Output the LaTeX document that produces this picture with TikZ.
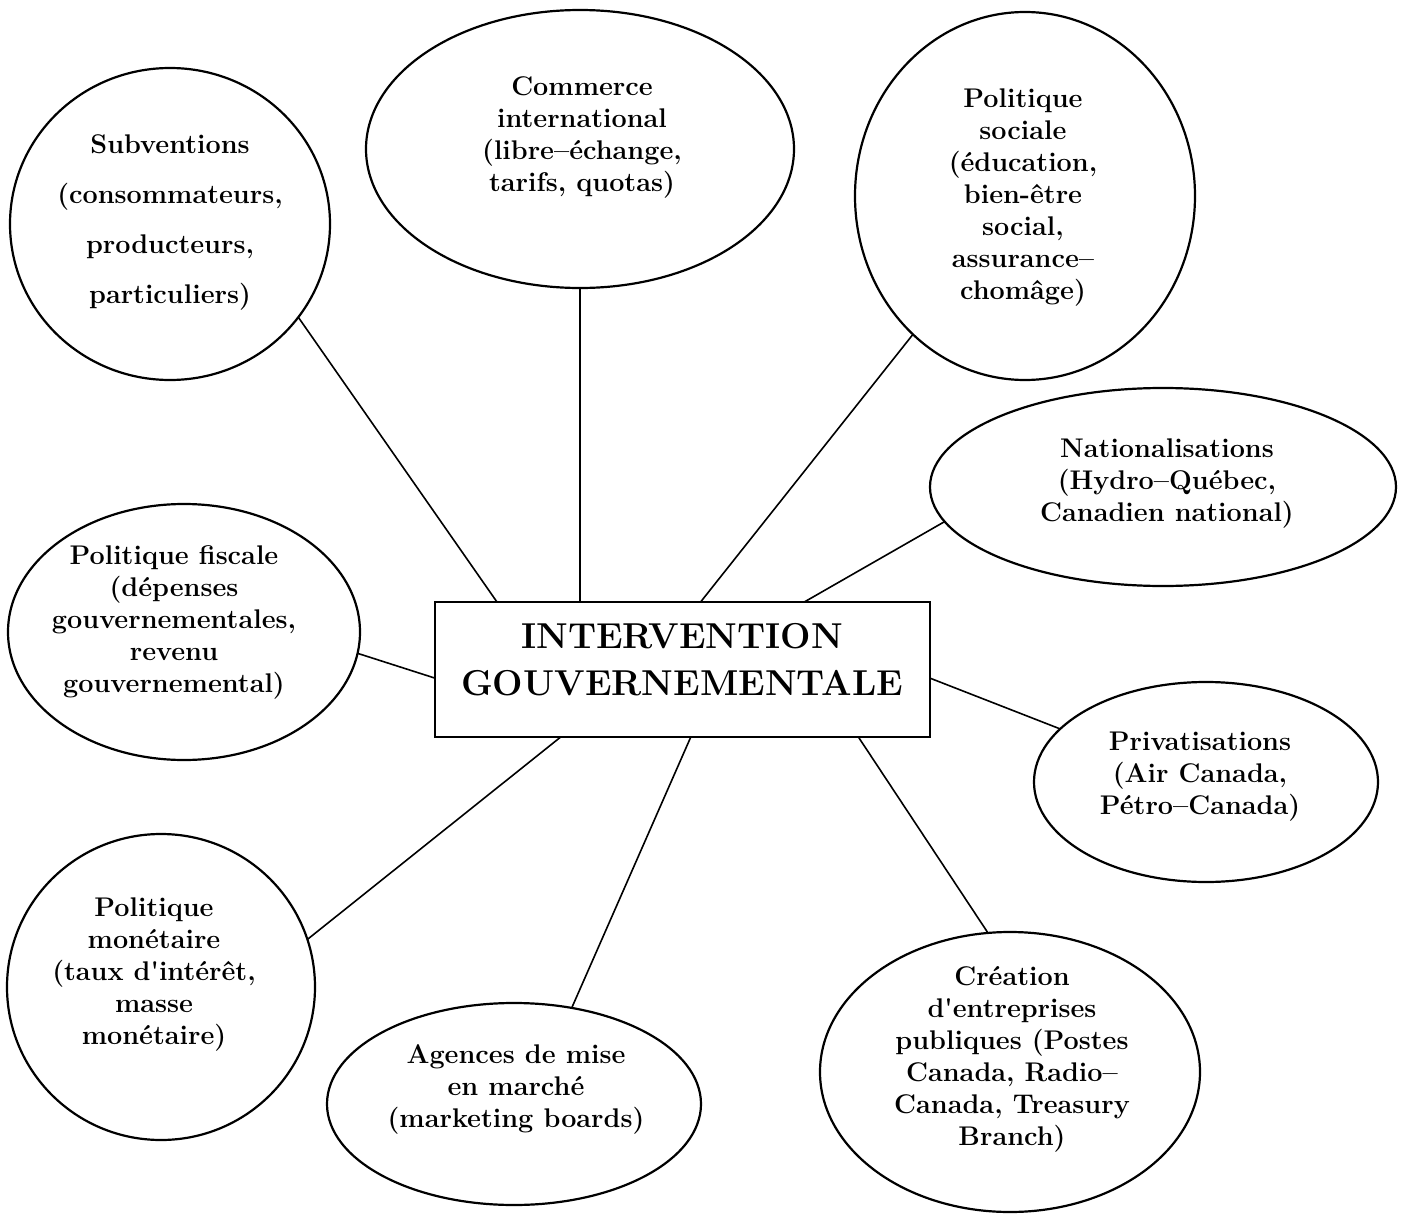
\documentclass[tikz,border=0pt]{standalone}
\usepackage{tikz}
\usetikzlibrary{shapes.geometric}

\begin{document}
\begin{tikzpicture}[x=0.5pt,y=-0.5pt,
    bubble/.style 2 args={ellipse, draw, line width=1.1pt, inner sep=0pt, outer sep=0pt,
        minimum width=#1pt, minimum height=#2pt},
    bubbletext/.style={align=center, inner sep=0pt, font=\fontsize{13.5}{16}\selectfont\bfseries},
    mainbox/.style={rectangle, draw, line width=1.3pt, inner sep=0pt, outer sep=0pt,
        minimum width=247.5pt, minimum height=67.5pt},
    link/.style={line width=0.8pt}]
    \useasboundingbox (0,0) rectangle (1405,1226);

    % central box
    \node[mainbox] (gov) at (682.5,669.5) {};
    \node[align=center, inner sep=0pt, font=\fontsize{18}{23.5}\selectfont\bfseries] (gov-t) at (682,660)
        {INTERVENTION\\GOUVERNEMENTALE};

    % bubbles
    \node[bubble={160}{156}] (subv) at (170,224) {};
    \node[bubble={214}{139}] (comm) at (580,149) {};
    \node[bubble={170}{184}] (soc) at (1025,196) {};
    \node[bubble={233}{99}] (nat) at (1163,487) {};
    \node[bubble={176}{128}] (fisc) at (184,632) {};
    \node[bubble={172}{100}] (priv) at (1206,782) {};
    \node[bubble={154}{153}] (mon) at (161,987) {};
    \node[bubble={187}{101}] (agen) at (514,1104) {};
    \node[bubble={190}{140}] (crea) at (1010,1072) {};

    % bubble texts
    \node[bubbletext, font=\fontsize{13.5}{25}\selectfont\bfseries] (subv-t) at (170,222)
        {Subventions\\(consommateurs,\\producteurs,\\particuliers)};
    \node[bubbletext] (comm-t) at (582,137)
        {Commerce\\international\\(libre\textendash échange,\\tarifs, quotas)};
    \node[bubbletext] (soc-t) at (1023,198)
        {Politique\\sociale\\(éducation,\\bien-être\\social,\\assurance\textendash\\chomâge)};
    \node[bubbletext] (nat-t) at (1167,484)
        {Nationalisations\\(Hydro\textendash Québec,\\Canadien national)};
    \node[bubbletext] (fisc-t) at (174,622)
        {Politique fiscale\\(dépenses\\gouvernementales,\\revenu\\gouvernemental)};
    \node[bubbletext] (priv-t) at (1200,777)
        {Privatisations\\(Air Canada,\\Pétro\textendash Canada)};
    \node[bubbletext] (mon-t) at (154,975)
        {Politique\\monétaire\\(taux d\textquotesingle intérêt,\\masse\\monétaire)};
    \node[bubbletext] (agen-t) at (516,1089)
        {Agences de mise\\en marché\\(marketing boards)};
    \node[bubbletext] (crea-t) at (1012,1059)
        {Création\\d\textquotesingle entreprises\\publiques (Postes\\Canada, Radio\textendash\\Canada, Treasury\\Branch)};

    % links
    \draw[link] (subv.-36.5) -- (gov.160);
    \draw[link] (comm.south) -- (comm.south |- gov.north);
    \draw[link] (soc.-129.3) -- (gov.75.5);
    \draw[link] (nat.-171) -- (gov.29.9);
    \draw[link] (fisc.-7.3) -- (gov.182.2);
    \draw[link] (priv.160.3) -- (gov.-2);
    \draw[link] (mon.18.1) -- (gov.-151.7);
    \draw[link] (agen.59) -- (gov.-83.7);
    \draw[link] (crea.99) -- (gov.-21);
\end{tikzpicture}
\end{document}
